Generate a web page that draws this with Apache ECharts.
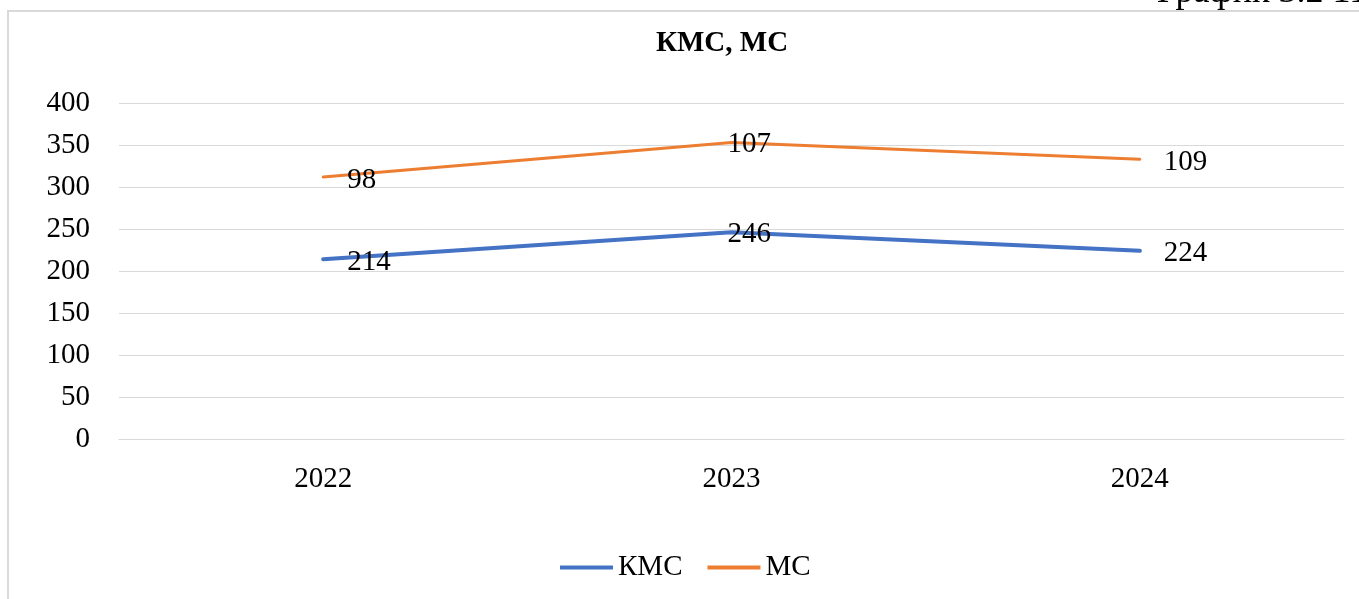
<!DOCTYPE html>
<html>
<head>
<meta charset="utf-8">
<script src="https://cdn.jsdelivr.net/npm/echarts@6/dist/echarts.min.js"></script>
<style>html,body{margin:0;padding:0;background:#fff;}#c{width:1359px;height:599px;}</style>
</head>
<body>
<div id="c"></div>
<script>
const categories = ['2022', '2023', '2024'];
const kmsValues = [214, 246, 224];
const msValues = [98, 107, 109];
const seriesNames = ['КМС', 'МС'];
const titleText = 'КМС, МС';
const captionText = 'График 3.2 11';

const FONT = "'Liberation Serif', 'Times New Roman', serif";
const chart = echarts.init(document.getElementById('c'));

function withLabels(arr) {
  return arr.map((v, i) => i === 1 ? { value: v, label: { offset: [-28, 2] } } : v);
}

const labelStyle = { show: true, position: 'right', distance: 24, offset: [0, 3], fontFamily: FONT, fontSize: 29, color: '#000' };

chart.setOption({
  animation: false,
  backgroundColor: '#fff',
  graphic: [
    { type: 'rect', shape: { x: 8, y: 11, width: 1500, height: 700 }, style: { fill: 'none', stroke: '#d9d9d9', lineWidth: 2 }, silent: true, z: -1 },
    { type: 'text', x: 722, y: 29, style: { text: titleText, font: "bold 29px " + FONT, fill: '#000', align: 'center', verticalAlign: 'top' } },
    { type: 'text', x: 1157, y: -25, style: { text: captionText, font: "36px " + FONT, fill: '#000', verticalAlign: 'top' } }
  ],
  grid: { left: 119, right: 15, top: 103, bottom: 160, containLabel: false },
  legend: {
    bottom: 12, left: 555,
    itemWidth: 53, itemHeight: 4, itemGap: 25,
    icon: 'rect',
    textStyle: { fontFamily: FONT, fontSize: 29, color: '#000' },
    data: seriesNames
  },
  xAxis: {
    type: 'category', data: categories, boundaryGap: true,
    axisLine: { show: true, lineStyle: { color: '#d9d9d9', width: 1 } },
    axisTick: { show: false },
    axisLabel: { margin: 26, fontFamily: FONT, fontSize: 29, color: '#000' }
  },
  yAxis: {
    type: 'value', min: 0, max: 400, interval: 50,
    axisLine: { show: false }, axisTick: { show: false },
    splitLine: { lineStyle: { color: '#d9d9d9', width: 1 } },
    axisLabel: { margin: 29, fontFamily: FONT, fontSize: 29, color: '#000' }
  },
  series: [
    {
      name: seriesNames[0], type: 'line', stack: 'total', data: withLabels(kmsValues),
      symbol: 'circle', symbolSize: 0.01, showSymbol: true,
      lineStyle: { color: '#4472C4', width: 4, cap: 'round' }, itemStyle: { color: '#4472C4' },
      label: labelStyle
    },
    {
      name: seriesNames[1], type: 'line', stack: 'total', data: withLabels(msValues),
      symbol: 'circle', symbolSize: 0.01, showSymbol: true,
      lineStyle: { color: '#ED7D31', width: 3, cap: 'round' }, itemStyle: { color: '#ED7D31' },
      label: labelStyle
    }
  ]
});
</script>
</body>
</html>
